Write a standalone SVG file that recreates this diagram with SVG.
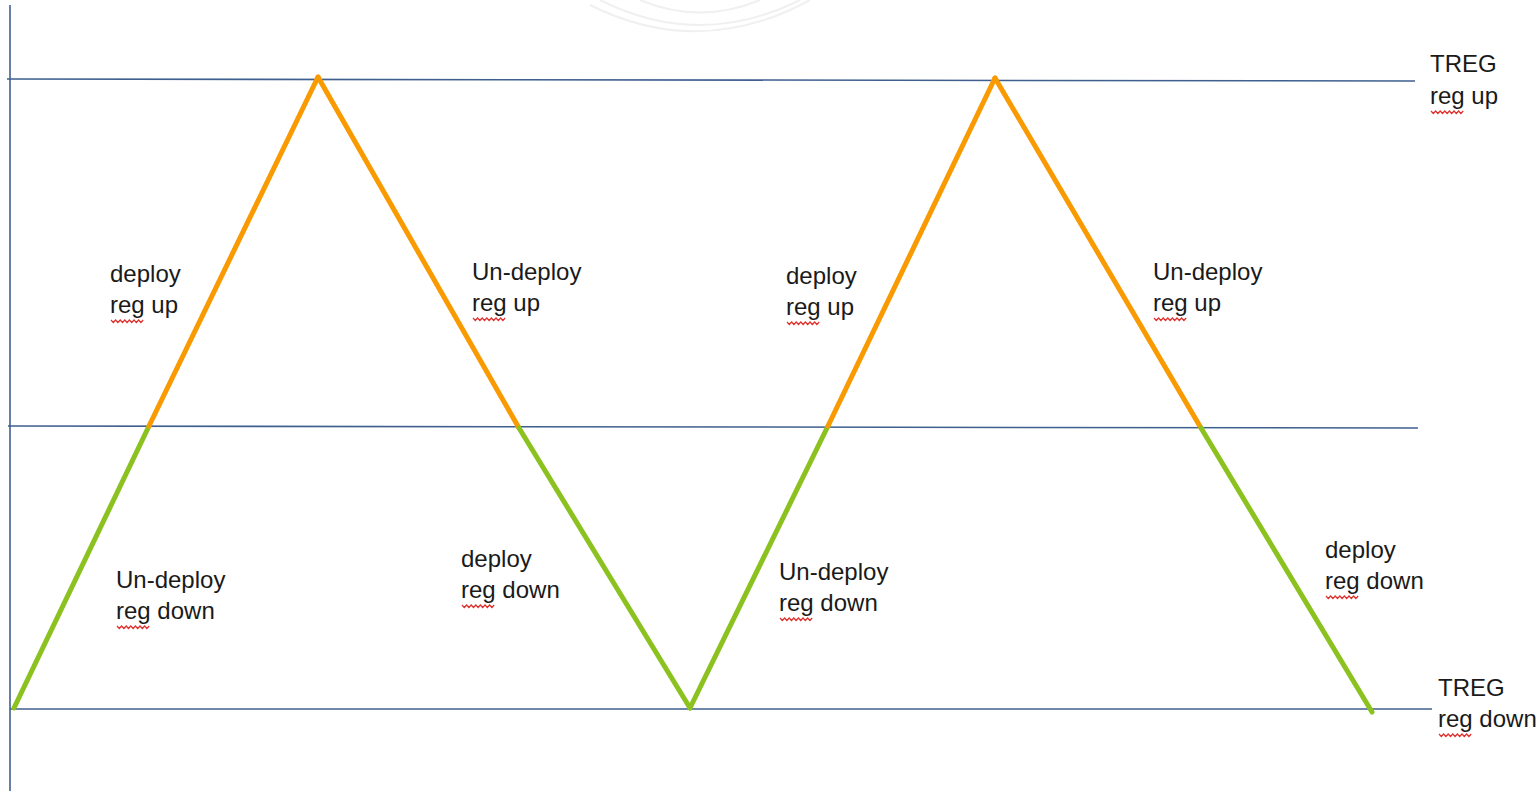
<svg xmlns="http://www.w3.org/2000/svg" width="1539" height="791" viewBox="0 0 1539 791">
<style>
.axis{stroke:#3f5f8f;stroke-width:1.6;fill:none}
.up{stroke:#f99a00;stroke-width:5;stroke-linecap:round;fill:none}
.dn{stroke:#8cc21f;stroke-width:5;stroke-linecap:round;fill:none}
.lbl{font-family:"Liberation Sans",Arial,sans-serif;font-size:24px;fill:#1a1a1a}
.sq{stroke:#e0302c;stroke-width:1.2;fill:none}
.arc{stroke:#f0f0f0;stroke-width:2;fill:none}
</style>
<defs>
<path id="squig" d="M0 0 l2.3 2.5 l2.3 -2.5 l2.3 2.5 l2.3 -2.5 l2.3 2.5 l2.3 -2.5 l2.3 2.5 l2.3 -2.5 l2.3 2.5 l2.3 -2.5 l2.3 2.5 l2.3 -2.5 l2.3 2.5 l2.3 -2.5"/>
</defs>
<rect width="1539" height="791" fill="#fff"/>
<g id="watermark">
<path class="arc" d="M600 0 Q700 50 800 0"/>
<path class="arc" d="M590 5 Q700 60 810 0"/>
<path class="arc" d="M640 0 Q700 25 760 0"/>
</g>
<g id="axes">
<line class="axis" x1="10" y1="5" x2="10" y2="791"/>
<line class="axis" x1="7" y1="79" x2="1415" y2="81"/>
<line class="axis" x1="8" y1="426" x2="1418" y2="428"/>
<line class="axis" x1="10" y1="709" x2="1432" y2="709"/>
</g>
<g id="connectors">
<line class="dn" x1="14" y1="708" x2="149" y2="426"/>
<line class="up" x1="149" y1="426" x2="318" y2="77"/>
<line class="up" x1="318" y1="77" x2="519" y2="428"/>
<line class="dn" x1="519" y1="428" x2="690" y2="708"/>
<line class="dn" x1="690" y1="708" x2="828" y2="426"/>
<line class="up" x1="828" y1="426" x2="995" y2="78"/>
<line class="up" x1="995" y1="78" x2="1201" y2="428"/>
<line class="dn" x1="1201" y1="428" x2="1372" y2="712"/>
</g>
<g id="label-treg-up">
<text class="lbl" x="1430" y="72">TREG</text>
<text class="lbl" x="1430" y="104">reg up</text>
<use href="#squig" class="sq" x="1431" y="111"/>
</g>
<g id="label-treg-down">
<text class="lbl" x="1438" y="696">TREG</text>
<text class="lbl" x="1438" y="727">reg down</text>
<use href="#squig" class="sq" x="1439" y="734"/>
</g>
<g id="label-1">
<text class="lbl" x="110" y="282">deploy</text>
<text class="lbl" x="110" y="313">reg up</text>
<use href="#squig" class="sq" x="111" y="320"/>
</g>
<g id="label-2">
<text class="lbl" x="472" y="280">Un-deploy</text>
<text class="lbl" x="472" y="311">reg up</text>
<use href="#squig" class="sq" x="473" y="318"/>
</g>
<g id="label-3">
<text class="lbl" x="786" y="284">deploy</text>
<text class="lbl" x="786" y="315">reg up</text>
<use href="#squig" class="sq" x="787" y="322"/>
</g>
<g id="label-4">
<text class="lbl" x="1153" y="280">Un-deploy</text>
<text class="lbl" x="1153" y="311">reg up</text>
<use href="#squig" class="sq" x="1154" y="318"/>
</g>
<g id="label-5">
<text class="lbl" x="116" y="588">Un-deploy</text>
<text class="lbl" x="116" y="619">reg down</text>
<use href="#squig" class="sq" x="117" y="626"/>
</g>
<g id="label-6">
<text class="lbl" x="461" y="567">deploy</text>
<text class="lbl" x="461" y="598">reg down</text>
<use href="#squig" class="sq" x="462" y="605"/>
</g>
<g id="label-7">
<text class="lbl" x="779" y="580">Un-deploy</text>
<text class="lbl" x="779" y="611">reg down</text>
<use href="#squig" class="sq" x="780" y="618"/>
</g>
<g id="label-8">
<text class="lbl" x="1325" y="558">deploy</text>
<text class="lbl" x="1325" y="589">reg down</text>
<use href="#squig" class="sq" x="1326" y="596"/>
</g>
</svg>
